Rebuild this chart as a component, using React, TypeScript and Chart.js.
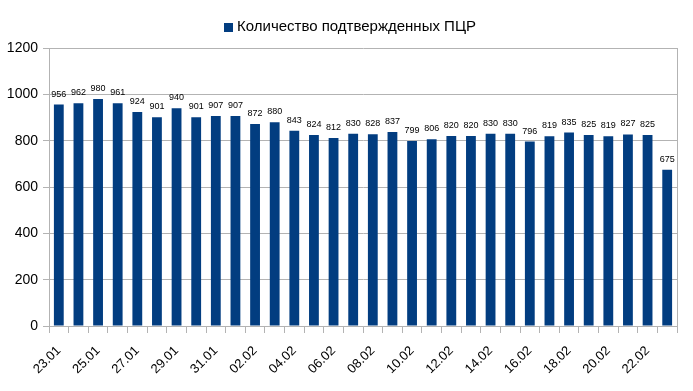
import React, { useEffect, useRef } from "react";
import { Chart, registerables } from "chart.js";

Chart.register(...registerables);

const seriesName = "Количество подтвержденных ПЦР";
const categories = [
  "23.01", "24.01", "25.01", "26.01", "27.01", "28.01", "29.01", "30.01", "31.01",
  "01.02", "02.02", "03.02", "04.02", "05.02", "06.02", "07.02", "08.02", "09.02",
  "10.02", "11.02", "12.02", "13.02", "14.02", "15.02", "16.02", "17.02", "18.02",
  "19.02", "20.02", "21.02", "22.02", "23.02",
];
const values = [
  956, 962, 980, 961, 924, 901, 940, 901, 907, 907, 872, 880, 843, 824, 812, 830,
  828, 837, 799, 806, 820, 820, 830, 830, 796, 819, 835, 825, 819, 827, 825, 675,
];
const yTicks = [0, 200, 400, 600, 800, 1000, 1200];

const BAR_COLOR = "#023d80";
const GRID = "#b3b3b3";
const FONT = "'Liberation Sans', Arial, sans-serif";

const extrasPlugin = {
  id: "extras",
  afterDatasetsDraw(chart: any) {
    const ctx = chart.ctx;
    const meta = chart.getDatasetMeta(0);
    ctx.save();
    ctx.fillStyle = "#000";
    ctx.font = `9px ${FONT}`;
    ctx.textAlign = "center";
    ctx.textBaseline = "bottom";
    meta.data.forEach((el: any, i: number) => {
      ctx.fillText(String(values[i]), el.x, el.y - 6);
    });
    // right border of plot
    const a = chart.chartArea;
    ctx.strokeStyle = GRID;
    ctx.lineWidth = 1;
    ctx.beginPath();
    ctx.moveTo(Math.round(a.right) + 0.5, a.top);
    ctx.lineTo(Math.round(a.right) + 0.5, a.bottom);
    ctx.stroke();
    // legend
    ctx.font = `15px ${FONT}`;
    ctx.textAlign = "left";
    ctx.textBaseline = "middle";
    const tw = ctx.measureText(seriesName).width;
    const box = 9;
    const gap = 4;
    const total = box + gap + tw;
    const cx = 350;
    const x0 = Math.round(cx - total / 2);
    const cy = 27;
    ctx.fillStyle = BAR_COLOR;
    ctx.fillRect(x0, cy - 4, box, box);
    ctx.fillStyle = "#000";
    ctx.fillText(seriesName, x0 + box + gap, cy);
    ctx.restore();
  },
};

export default function App() {
  const ref = useRef<HTMLCanvasElement>(null);
  useEffect(() => {
    const chart = new Chart(ref.current!, {
      type: "bar",
      data: {
        labels: categories,
        datasets: [
          {
            label: seriesName,
            data: values,
            backgroundColor: BAR_COLOR,
            categoryPercentage: 1,
            barPercentage: 0.5,
          },
        ],
      },
      options: {
        animation: false,
        responsive: false,
        maintainAspectRatio: false,
        layout: { padding: { top: 48, right: 16, left: 0, bottom: 0 } },
        plugins: {
          legend: { display: false },
          tooltip: { enabled: false },
        },
        scales: {
          x: {
            offset: true,
            grid: {
              offset: true,
              drawOnChartArea: false,
              color: GRID,
              tickLength: 7,
            },
            border: { color: GRID },
            ticks: {
              autoSkip: false,
              maxRotation: 45,
              minRotation: 45,
              color: "#000",
              font: { family: FONT, size: 13 },
              padding: 10,
              callback: (_v: any, i: number) => (i % 2 === 0 ? categories[i] : ""),
            },
            afterFit: (s: any) => {
              s.height = 65;
            },
          },
          y: {
            min: 0,
            max: 1200,
            grid: { color: GRID, tickLength: 6 },
            border: { color: GRID },
            afterBuildTicks: (s: any) => {
              s.ticks = yTicks.map((v) => ({ value: v }));
            },
            ticks: {
              color: "#000",
              font: { family: FONT, size: 14 },
              padding: 5,
              callback: (v: any) => String(v),
            },
            afterFit: (s: any) => {
              s.width = 49;
            },
          },
        },
      },
      plugins: [extrasPlugin],
    });
    return () => chart.destroy();
  }, []);
  return (
    <div style={{ position: "fixed", left: 0, top: 0, width: 693, height: 391, background: "#fff" }}>
      <canvas ref={ref} width={693} height={391} style={{ width: 693, height: 391, display: "block" }} />
    </div>
  );
}
